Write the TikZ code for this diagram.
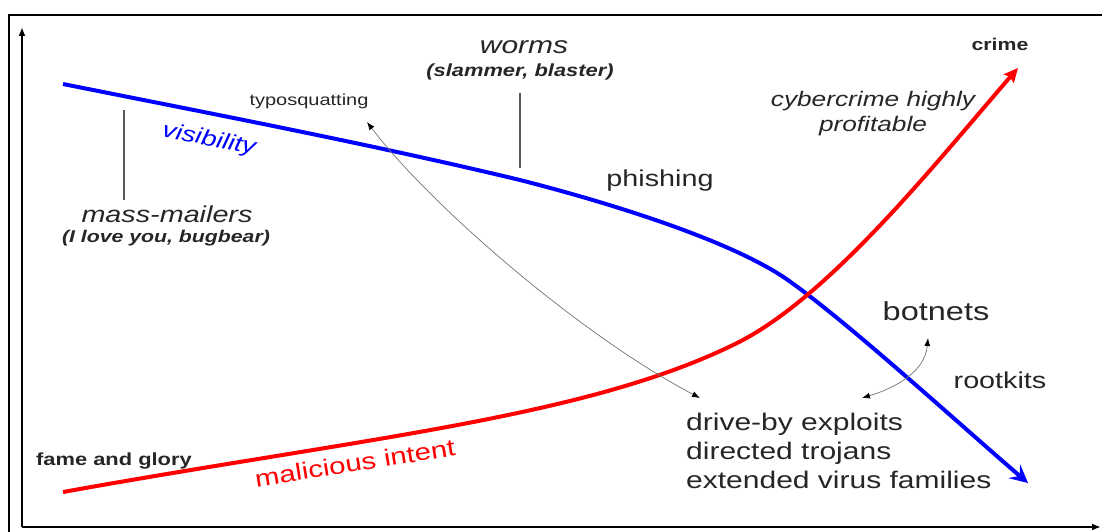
\documentclass[tikz,border=0pt]{standalone}
\usepackage{fontspec}
\setmainfont{Liberation Sans}[FakeStretch=1.25]
\usetikzlibrary{arrows.meta}
\newcommand{\fsz}[2]{\fontsize{#1}{#2}\selectfont}
\tikzset{
  lbl/.style={inner sep=0pt, text=black!85},
  leader/.style={draw=black!65, line width=1.2pt},
  pointer/.style={draw=black!55, line width=0.7pt,
    {Latex[length=8pt,width=6pt,color=black]}-{Latex[length=8pt,width=6pt,color=black]}},
  axis/.style={line width=2.4pt, -{Latex[length=9pt,width=7pt]}},
  trend/.style={line width=4pt}
}
\begin{document}
\begin{tikzpicture}[x=1pt, y=-1pt]
  \useasboundingbox (0,0) rectangle (1102,532);
  % frame and axes
  \draw[line width=2pt] (9,532) -- (9,15) -- (1102,15);
  \coordinate (origin) at (22,527);
  \coordinate (ytop) at (22,27);
  \coordinate (xend) at (1101,527);
  \draw[axis] (origin) -- (ytop);
  \draw[axis] (origin) -- (xend);

  % visibility curve
  \draw[trend, blue, -{Stealth[length=18pt,width=18pt,inset=7pt]}]
    (63,84) .. controls (213,114) and (370,144) .. (520,180)
            .. controls (610,203) and (737,242) .. (792,283)
            .. controls (852,326) and (958,423) .. (1028,483);
  % malicious intent curve
  \draw[trend, red, -{Stealth[length=14pt,width=13pt,inset=2pt]}]
    (63,492) .. controls (363,438) and (583,418) .. (733,345)
             .. controls (828,300) and (938,160) .. (1018,68);

  % labels
  \node[lbl, font=\fsz{16}{19}] (typo) at (309,101) {typosquatting};
  \node[lbl, font=\fsz{24}{29}\itshape] (worms) at (524,47) {worms};
  \node[lbl, font=\fsz{17.5}{21}\bfseries\itshape] (wormsx) at (520,72) {(slammer, blaster)};
  \node[lbl, font=\fsz{22}{26}\itshape, text=blue, rotate=-11] (vis) at (209,140) {visibility};
  \node[lbl, font=\fsz{23}{28}\itshape] (mm) at (167,214) {mass-mailers};
  \node[lbl, font=\fsz{17}{20}\bfseries\itshape] (mmx) at (166,238) {(I love you, bugbear)};
  \node[lbl, font=\fsz{23}{28}] (phish) at (660,181) {phishing};
  \node[lbl, font=\fsz{17}{20}\bfseries] (crime) at (1000,44) {crime};
  \node[lbl, font=\fsz{21}{25}\itshape, align=center] (profit) at (873,114) {cybercrime highly\\profitable};
  \node[lbl, font=\fsz{26}{31}] (bot) at (936,311) {botnets};
  \node[lbl, font=\fsz{23}{28}] (root) at (1000,380) {rootkits};
  \node[lbl, font=\fsz{24}{29}, align=left, anchor=north west] (drive) at (686,413)
    {drive-by exploits\\directed trojans\\extended virus families};
  \node[lbl, font=\fsz{17.5}{21}\bfseries] (fame) at (114,461) {fame and glory};
  \node[lbl, font=\fsz{23.5}{28}, text=red, rotate=9] (mal) at (355,463) {malicious intent};

  % leader lines
  \coordinate (mmtop) at (124,110);
  \coordinate (mmbot) at (124,200);
  \draw[leader] (mmtop) -- (mmbot);
  \coordinate (wtop) at (520,93);
  \coordinate (wbot) at (520,168);
  \draw[leader] (wtop) -- (wbot);

  % pointers
  \coordinate (typoend) at (367,122);
  \coordinate (driveA) at (700,398);
  \coordinate (driveB) at (862,398);
  \coordinate (botend) at (928,338);
  \draw[pointer] (typoend) .. controls (430,205) and (580,335) .. (driveA);
  \draw[pointer] (driveB) .. controls (895,388) and (925,372) .. (botend);
\end{tikzpicture}
\end{document}
